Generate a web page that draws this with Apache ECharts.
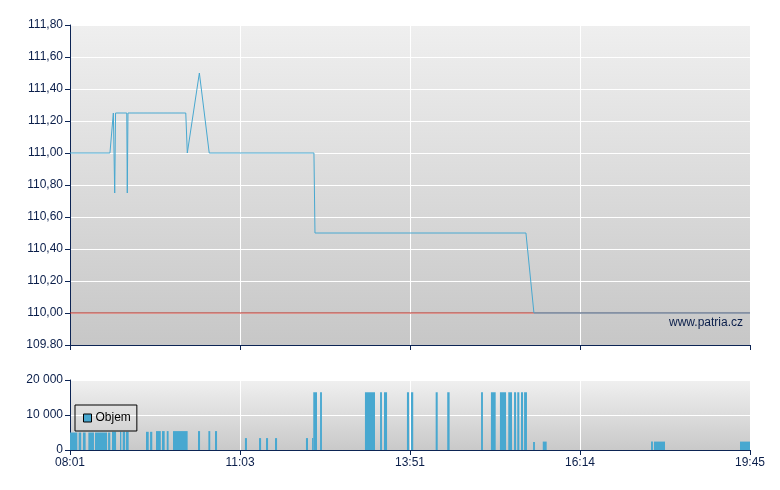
<!DOCTYPE html>
<html>
<head>
<meta charset="utf-8">
<script src="https://cdn.jsdelivr.net/npm/echarts@6/dist/echarts.min.js"></script>
<style>
html,body{margin:0;padding:0;background:#fff;}
#c{width:780px;height:490px;}
</style>
</head>
<body>
<div id="c"></div>
<script>
// Session slots: x axis runs 0..400, ticks every 100 slots
var xTickLabels = ["08:01", "11:03", "13:51", "16:14", "19:45"];
var yTickLabels = ["109.80", "110,00", "110,20", "110,40", "110,60", "110,80", "111,00", "111,20", "111,40", "111,60", "111,80"];
var volTickLabels = ["0", "10 000", "20 000"];

// Price line (slot, price)
var priceX = [0, 23.5, 25.5, 26.3, 26.8, 33.4, 33.7, 34.1, 68.1, 69.0, 76.1, 81.9, 143.5, 144.1, 268.2, 272.9, 400];
var priceY = [111.00, 111.00, 111.25, 110.75, 111.25, 111.25, 110.75, 111.25, 111.25, 111.00, 111.50, 111.00, 111.00, 110.50, 110.50, 110.00, 110.00];

// Reference price
var refPrice = 110.00;

// Volume blocks (start slot, end slot, volume)
var volStart = [0, 5.1, 7.6, 10.8, 14.7, 22.4, 24.7, 29.4, 31.0, 32.9, 44.7, 47.1, 50.6, 54.1, 56.9, 60.6, 75.3, 81.4, 85.3,
  102.9, 111.2, 115.3, 120.6, 138.8, 142.4, 143.1, 147.1, 173.5, 182.4, 184.7, 198.2, 200.6, 215.1, 221.9, 241.8,
  247.6, 252.9, 257.8, 261.2, 263.1, 265.3, 267.1, 272.4, 278.1, 341.8, 343.5, 394.1];
var volEnd = [4.3, 6.6, 9.2, 14.1, 21.8, 23.7, 27.1, 30.2, 32.4, 34.5, 46.3, 48.4, 53.4, 55.7, 58.0, 69.2, 76.5, 82.5, 86.5,
  104.1, 112.4, 116.5, 121.8, 140.0, 143.1, 145.3, 148.2, 179.4, 183.5, 186.5, 199.4, 201.9, 216.3, 223.3, 242.9,
  250.4, 256.5, 260.0, 262.4, 264.3, 266.5, 268.8, 273.5, 280.4, 342.9, 350.0, 400];
var volValue = [5000, 5000, 5000, 5000, 5000, 5000, 5200, 5200, 5200, 5200, 5200, 5200, 5400, 5400, 5400, 5400, 5400, 5400, 5400,
  3400, 3400, 3400, 3400, 3400, 3400, 16500, 16500, 16500, 16500, 16500, 16500, 16500, 16500, 16500, 16500,
  16500, 16500, 16500, 16500, 16500, 16500, 16500, 2300, 2400, 2400, 2400, 2400];

var FONT = 'Liberation Sans';
var TXT = '#0a1e4a';
var AX = '#0c2454';
var BLUE = '#48a8d0';

var priceData = priceX.map(function (x, i) { return [x, priceY[i]]; });
var volData = volStart.map(function (s, i) { return [s, volEnd[i], volValue[i]]; });

function bg(top, bottom) {
  return new echarts.graphic.LinearGradient(0, 0, 0, 1, [
    { offset: 0, color: top }, { offset: 1, color: bottom }
  ]);
}

var chart = echarts.init(document.getElementById('c'), null, { renderer: 'canvas' });
chart.setOption({
  animation: false,
  backgroundColor: '#ffffff',
  textStyle: { fontFamily: FONT },
  grid: [
    { left: 70, right: 30, top: 25, height: 320, show: true, borderWidth: 0, backgroundColor: bg('#efefef', '#c7c7c7') },
    { left: 70, right: 30, top: 380, height: 70, show: true, borderWidth: 0, backgroundColor: bg('#f0f0f0', '#c9c9c9') }
  ],
  legend: {
    data: ['Objem'],
    left: 75, top: 405,
    orient: 'horizontal',
    padding: [7, 6, 7, 8],
    borderColor: '#000', borderWidth: 1, borderRadius: 0,
    backgroundColor: 'transparent',
    icon: 'rect', itemWidth: 8, itemHeight: 8,
    itemStyle: { color: BLUE, borderColor: '#000', borderWidth: 1 },
    textStyle: { fontFamily: FONT, fontSize: 12, color: '#000', padding: [0, 0, 0, -1] },
    selectedMode: false
  },
  xAxis: [
    {
      type: 'value', gridIndex: 0, min: 0, max: 400, interval: 100,
      axisLine: { show: true, onZero: false, lineStyle: { color: AX, width: 1 } },
      axisTick: { show: true, length: 5, lineStyle: { color: AX } },
      axisLabel: { show: false },
      splitLine: { show: true, lineStyle: { color: '#ffffff', width: 1 } }
    },
    {
      type: 'value', gridIndex: 1, min: 0, max: 400, interval: 100,
      axisLine: { show: true, onZero: false, lineStyle: { color: AX, width: 1 } },
      axisTick: { show: true, length: 5, lineStyle: { color: AX } },
      axisLabel: {
        show: true, margin: 7, fontFamily: FONT, fontSize: 12, color: TXT,
        formatter: function (v) { return xTickLabels[Math.round(v / 100)]; }
      },
      splitLine: { show: true, lineStyle: { color: '#ffffff', width: 1 } }
    }
  ],
  yAxis: [
    {
      type: 'value', gridIndex: 0, min: 109.8, max: 111.8, interval: 0.2,
      axisLine: { show: true, lineStyle: { color: AX, width: 1 } },
      axisTick: { show: true, length: 5, lineStyle: { color: AX } },
      axisLabel: {
        margin: 7, fontFamily: FONT, fontSize: 12, color: TXT,
        formatter: function (v) { return yTickLabels[Math.round((v - 109.8) / 0.2)]; }
      },
      splitLine: { show: true, lineStyle: { color: '#ffffff', width: 1 } }
    },
    {
      type: 'value', gridIndex: 1, min: 0, max: 20000, interval: 10000,
      axisLine: { show: true, lineStyle: { color: AX, width: 1 } },
      axisTick: { show: true, length: 5, lineStyle: { color: AX } },
      axisLabel: {
        margin: 7, fontFamily: FONT, fontSize: 12, color: TXT,
        formatter: function (v) { return volTickLabels[Math.round(v / 10000)]; }
      },
      splitLine: { show: true, lineStyle: { color: '#ffffff', width: 1 } }
    }
  ],
  series: [
    {
      name: 'ref', type: 'line', xAxisIndex: 0, yAxisIndex: 0,
      data: [[0, refPrice], [400, refPrice]],
      symbol: 'none', silent: true,
      lineStyle: { color: '#b8261c', width: 1 }, z: 2
    },
    {
      name: 'Cena', type: 'line', xAxisIndex: 0, yAxisIndex: 0,
      data: priceData, symbol: 'none',
      lineStyle: { color: BLUE, width: 1 }, z: 3
    },
    {
      name: 'Objem', type: 'custom', xAxisIndex: 1, yAxisIndex: 1,
      data: volData,
      encode: { x: [0, 1], y: 2 },
      itemStyle: { color: BLUE },
      renderItem: function (params, api) {
        var s = api.coord([api.value(0), 0]);
        var e = api.coord([api.value(1), api.value(2)]);
        return {
          type: 'rect',
          shape: { x: s[0], y: e[1], width: Math.max(1, e[0] - s[0]), height: s[1] - e[1] },
          style: { fill: BLUE }
        };
      }
    }
  ],
  graphic: [
    {
      type: 'text', right: 37, top: 317,
      style: { text: 'www.patria.cz', font: '12px "Liberation Sans"', fill: TXT }
    }
  ]
});
</script>
</body>
</html>
